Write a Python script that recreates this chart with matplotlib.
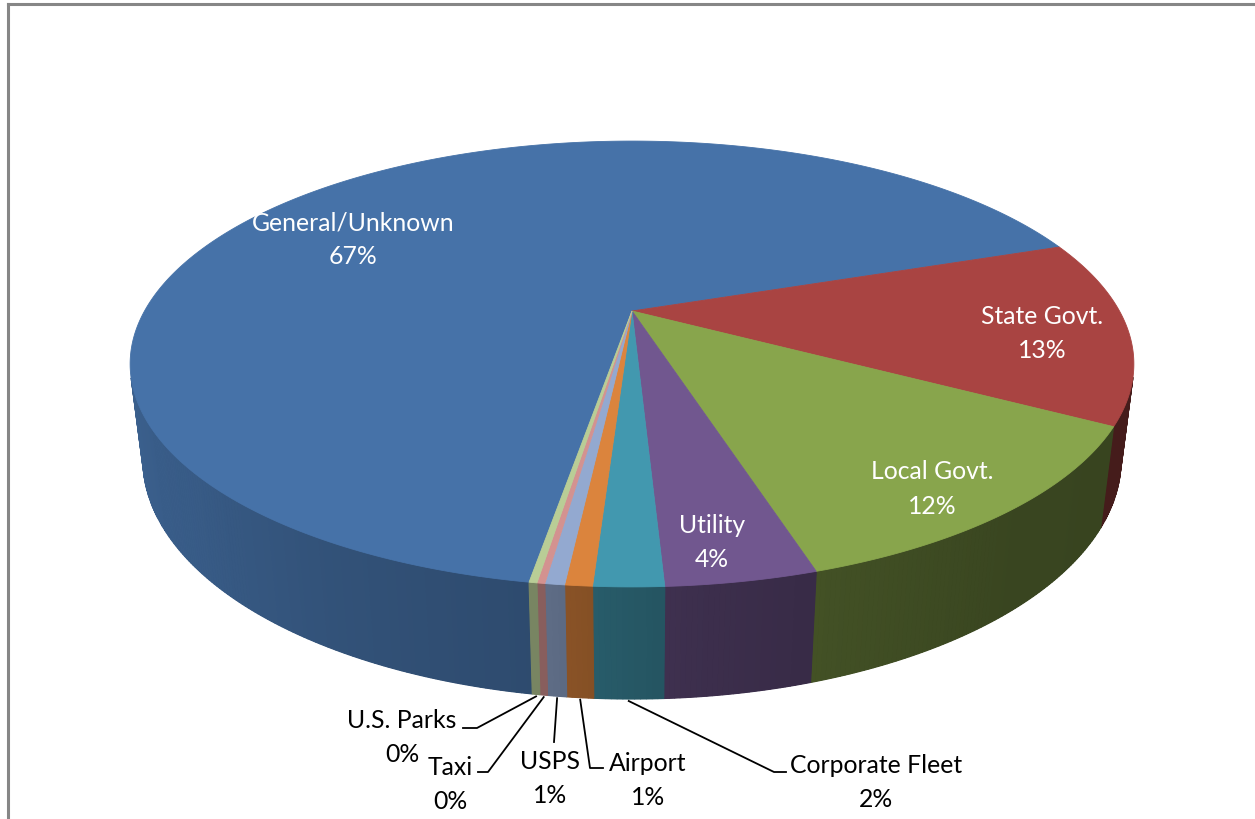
import numpy as np
import matplotlib.pyplot as plt
from matplotlib.colors import to_rgb
from matplotlib.lines import Line2D

plt.rcParams['font.family'] = ['Lato', 'DejaVu Sans']

labels = ['General/Unknown', 'State Govt.', 'Local Govt.', 'Utility', 'Corporate Fleet',
          'Airport', 'USPS', 'Taxi', 'U.S. Parks']
shares = [67.1, 13.4, 12.2, 3.9, 1.8, 0.7, 0.5, 0.2, 0.2]
colors = ['#4672A8', '#A94442', '#88A54C', '#71578F', '#4298AF',
          '#DB843D', '#93A9D0', '#D39290', '#B9CD96']

# simple perspective camera looking down on a unit disk
CX, CY = 632, 312
FOCAL = 1850
TILT = np.radians(25.56)
DIST = 3.795
THICK = 0.216
START = 189.3  # degrees, clockwise from the back of the disk


def project(theta, r=1.0, h=0.0):
    t = np.radians(theta)
    u, v = r * np.sin(t), r * np.cos(t)
    s, c = np.sin(TILT), np.cos(TILT)
    yc = h * c + v * s
    zc = DIST + v * c - h * s
    return CX + FOCAL * u / zc, CY - FOCAL * yc / zc


def facing(theta):
    t = np.radians(theta)
    u, v = np.sin(t), np.cos(t)
    s, c = np.sin(TILT), np.cos(TILT)
    h = -THICK / 2
    p = np.array([u, h * c + v * s, DIST + v * c - h * s])
    n = np.array([u, v * s, v * c])
    return p @ n < 0


# darker wall toward the right hand side
shade_ang = [95, 140, 160, 175, 183, 190, 210, 230, 265]
shade_val = [0.40, 0.42, 0.48, 0.54, 0.60, 0.66, 0.72, 0.80, 0.86]

fig = plt.figure(figsize=(12.55, 8.2), dpi=100)
ax = fig.add_axes([0, 0, 1, 1])
ax.set_xlim(0, 1255)
ax.set_ylim(820, 0)
ax.axis('off')

total = sum(shares)
edges = START + np.concatenate([[0], np.cumsum(shares)]) / total * 360
mids = (edges[:-1] + edges[1:]) / 2

# side walls: a flat underlay per slice, then shaded strips over it
for i, col in enumerate(colors):
    a0, a1 = edges[i], edges[i + 1]
    n = max(2, int((a1 - a0) / 0.5) + 1)
    ang = np.array([t for t in np.linspace(a0, a1, n) if facing(t)])
    if len(ang) < 2:
        continue
    base = np.array(to_rgb(col))
    xt, yt = project(ang)
    xb, yb = project(ang, h=-THICK)
    mid_f = np.interp(np.mean(ang) % 360, shade_ang, shade_val)
    ax.fill(np.r_[xt, xb[::-1]], np.r_[yt, yb[::-1]], color=base * mid_f, lw=0)
    for j in range(len(ang) - 1):
        f = np.interp(((ang[j] + ang[j + 1]) / 2) % 360, shade_ang, shade_val)
        c = np.clip(base * f, 0, 1)
        ax.fill([xt[j], xt[j + 1], xb[j + 1], xb[j]], [yt[j], yt[j + 1], yb[j + 1], yb[j]],
                color=c, lw=0.8, ec=c)

# top faces
for i, col in enumerate(colors):
    ang = np.linspace(edges[i], edges[i + 1], max(3, int(shares[i] * 10)))
    xs, ys = project(ang)
    ax.fill(np.r_[CX, xs], np.r_[CY, ys], color=col, lw=0.6, ec=col)

pct = [f'{int(v + 0.5)}%' for v in shares]


def two_line(x, y, i, color):
    # name above, percentage below, each line its own text
    ax.text(x, y - 17, labels[i], color=color, fontsize=17.8, ha='center', va='center')
    ax.text(x, y + 17, pct[i], color=color, fontsize=17.8, ha='center', va='center')


# labels sitting on the top face
inside = {0: (353, 240), 1: (1042, 334), 2: (932, 489), 3: (712, 543)}
for i, (x, y) in inside.items():
    two_line(x, y, i, 'white')

# outside labels with leader lines: (text centre, elbow, line end)
outside = {
    8: ((402, 738), (477, 729), (463, 729)),
    7: ((450, 785), (488, 773), (478, 773)),
    6: ((550, 779), (554, 743), (554, 743)),
    5: ((648, 781), (590, 769), (603, 769)),
    4: ((876, 783), (774, 773), (786, 773)),
}
for i, ((tx, ty), (ex, ey), (lx, ly)) in outside.items():
    sx, sy = project(mids[i], h=-THICK)
    ax.plot([sx, ex, lx], [sy + 2, ey, ly], color='black', lw=1.3)
    two_line(tx, ty, i, 'black')

# chart frame
fig.add_artist(Line2D([8 / 1255, 8 / 1255], [0, 1 - 5 / 820], color='#868686', lw=2.2))
fig.add_artist(Line2D([8 / 1255, 1], [1 - 5 / 820, 1 - 5 / 820], color='#868686', lw=2.2))

fig.savefig('out.png', dpi=100)
